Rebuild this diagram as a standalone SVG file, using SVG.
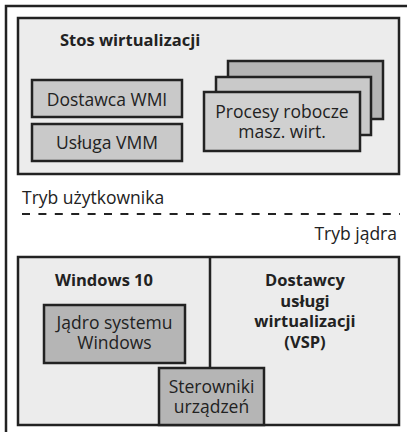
<svg xmlns="http://www.w3.org/2000/svg" width="407" height="432" viewBox="0 0 407 432">
<style>
.frame{fill:#ffffff;stroke:#222;stroke-width:2.5}
.panel{fill:#ececec;stroke:#222;stroke-width:2.5}
.box{fill:#c9c9c9;stroke:#222;stroke-width:2.5}
.dark{fill:#b5b5b5;stroke:#222;stroke-width:2.5}
.front{fill:#d0d0d0;stroke:#222;stroke-width:2.5}
text{font-family:"Open Sans","Noto Sans",sans-serif;fill:#222;font-size:17.5px}
.b{font-weight:bold;font-size:16.5px}
.m{text-anchor:middle}
</style>
<rect class="frame" x="6" y="6" width="410" height="440"/>
<g id="stos">
<rect class="panel" x="18" y="18" width="381" height="156"/>
<text class="b" x="60" y="46">Stos wirtualizacji</text>
</g>
<g id="wmi">
<rect class="box" x="32" y="80" width="150" height="37"/>
<text class="m" x="107" y="106">Dostawca WMI</text>
</g>
<g id="vmm">
<rect class="box" x="32" y="124" width="150" height="37"/>
<text class="m" x="107" y="149">Usługa VMM</text>
</g>
<g id="procesy">
<rect class="dark" x="228" y="61" width="155" height="58"/>
<rect class="box" x="216" y="77" width="155" height="58"/>
<rect class="front" x="204" y="92" width="156" height="59"/>
<text class="m" x="282" y="118">Procesy robocze</text>
<text class="m" x="282" y="138">masz. wirt.</text>
</g>
<g id="tryb-uzytkownika">
<text x="22" y="204">Tryb użytkownika</text>
</g>
<g id="connectors">
<line x1="22" y1="214" x2="400" y2="214" stroke="#222" stroke-width="2" stroke-dasharray="8 8.4"/>
</g>
<g id="tryb-jadra">
<text x="397" y="240" text-anchor="end">Tryb jądra</text>
</g>
<g id="jadro-panel">
<rect class="panel" x="18" y="257" width="381" height="168"/>
<line x1="210" y1="257" x2="210" y2="368" stroke="#222" stroke-width="2.5"/>
</g>
<g id="windows10">
<text class="b m" x="104" y="286">Windows 10</text>
</g>
<g id="vsp">
<text class="b m" x="305" y="286">Dostawcy</text>
<text class="b m" x="305" y="306.5">usługi</text>
<text class="b m" x="305" y="327">wirtualizacji</text>
<text class="b m" x="305" y="347.5">(VSP)</text>
</g>
<g id="jadro-systemu">
<rect class="dark" x="44" y="305" width="141" height="58"/>
<text class="m" x="114.5" y="329">Jądro systemu</text>
<text class="m" x="114.5" y="349">Windows</text>
</g>
<g id="sterowniki">
<rect class="dark" x="159" y="368" width="105" height="57"/>
<text class="m" x="211.5" y="393">Sterowniki</text>
<text class="m" x="211.5" y="413">urządzeń</text>
</g>
</svg>
